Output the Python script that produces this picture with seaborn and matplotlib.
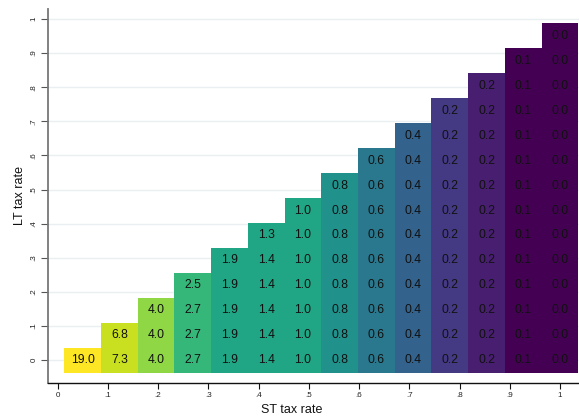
import numpy as np
import matplotlib
matplotlib.use("Agg")
import matplotlib.pyplot as plt
from matplotlib.colors import ListedColormap
import seaborn as sns

# Values for each ST-rate column, listed from LT rate 0 upward
col_values = [
    [19.0],
    [7.3, 6.8],
    [4.0, 4.0, 4.0],
    [2.7, 2.7, 2.7, 2.5],
    [1.9, 1.9, 1.9, 1.9, 1.9],
    [1.4, 1.4, 1.4, 1.4, 1.4, 1.3],
    [1.0, 1.0, 1.0, 1.0, 1.0, 1.0, 1.0],
    [0.8, 0.8, 0.8, 0.8, 0.8, 0.8, 0.8, 0.8],
    [0.6, 0.6, 0.6, 0.6, 0.6, 0.6, 0.6, 0.6, 0.6],
    [0.4, 0.4, 0.4, 0.4, 0.4, 0.4, 0.4, 0.4, 0.4, 0.4],
    [0.2, 0.2, 0.2, 0.2, 0.2, 0.2, 0.2, 0.2, 0.2, 0.2, 0.2],
    [0.2, 0.2, 0.2, 0.2, 0.2, 0.2, 0.2, 0.2, 0.2, 0.2, 0.2, 0.2],
    [0.1, 0.1, 0.1, 0.1, 0.1, 0.1, 0.1, 0.1, 0.1, 0.1, 0.1, 0.1, 0.1],
    [0.0, 0.0, 0.0, 0.0, 0.0, 0.0, 0.0, 0.0, 0.0, 0.0, 0.0, 0.0, 0.0, 0.0],
]

# Fill colour of each ST-rate column (viridis bins)
col_colors = [
    "#fde725", "#c8e020", "#8fd744", "#35b779", "#21a685", "#21a685",
    "#21a685", "#21918c", "#2a788e", "#33638d", "#443983", "#481f70",
    "#440154", "#440154",
]

tick_values = [0, .1, .2, .3, .4, .5, .6, .7, .8, .9, 1]
tick_labels = ["0", ".1", ".2", ".3", ".4", ".5", ".6", ".7", ".8", ".9", "1"]

# Cell centres on the rate scale
st_first = 0.05
step = 0.95 / 13

n = len(col_values)
values = np.full((n, n), np.nan)
levels = np.full((n, n), np.nan)
for i, col in enumerate(col_values):
    for j, v in enumerate(col):
        values[j, i] = v
        levels[j, i] = i


def cx(v):
    return (v - st_first) / step + 0.5


def cy(v):
    return v / step + 0.5


fig = plt.figure(figsize=(5.79, 4.17), dpi=100)
ax = fig.add_axes([48 / 579, (417 - 382.7) / 417, (579 - 48) / 579, (382.7 - 9) / 417])

plt.rcParams["font.family"] = ["Liberation Sans", "DejaVu Sans"]

sns.heatmap(
    levels, mask=np.isnan(levels), cmap=ListedColormap(col_colors),
    vmin=-0.5, vmax=n - 0.5, annot=values, fmt=".1f", cbar=False,
    annot_kws={"color": "#111111", "fontsize": 8.7, "family": "Liberation Sans"},
    linewidths=0, ax=ax,
)

ax.set_xlim(cx(-0.019), cx(1.0378))
ax.set_ylim(cy(-0.066), cy(1.029))

ax.set_xticks([cx(v) for v in tick_values])
ax.set_xticklabels(tick_labels, fontsize=5.8, family="Liberation Sans", color="#222222")
ax.set_yticks([cy(v) for v in tick_values])
ax.set_yticklabels(tick_labels, fontsize=5.8, family="Liberation Sans", color="#222222",
                   rotation=90, va="center")

ax.tick_params(axis="x", length=4.3, width=0.8, pad=2.5, color="#111111")
ax.tick_params(axis="y", length=4.8, width=0.8, pad=2.8, color="#555555")

ax.set_axisbelow(True)
ax.yaxis.grid(True, color="#eaf0f2", linewidth=1.0)
ax.xaxis.grid(False)

for side in ("top", "right"):
    ax.spines[side].set_visible(False)
ax.spines["left"].set_visible(True)
ax.spines["bottom"].set_visible(True)
ax.spines["left"].set_color("#777777")
ax.spines["left"].set_linewidth(1.3)
ax.spines["bottom"].set_color("#111111")
ax.spines["bottom"].set_linewidth(1.0)

ax.set_xlabel("ST tax rate", fontsize=9, family="Liberation Sans", color="#111111")
ax.set_ylabel("LT tax rate", fontsize=9, family="Liberation Sans", color="#111111")
ax.xaxis.set_label_coords(0.458, -0.057)
ax.yaxis.set_label_coords(-0.042, 0.5)

fig.savefig("out.png", dpi=100)
